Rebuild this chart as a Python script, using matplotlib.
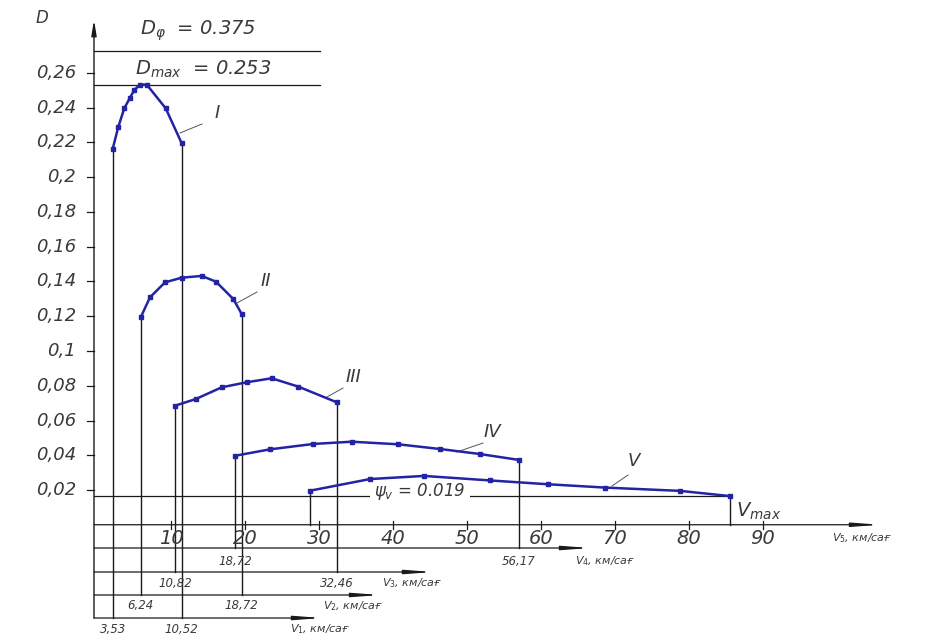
import numpy as np
import matplotlib.pyplot as plt

# dynamic characteristic: speed on the common V5 scale (km/h) and D
v_1 = [2.12, 2.88, 3.69, 4.46, 5.04, 5.81, 6.72, 9.28, 11.45]
d_1 = [0.2163, 0.229, 0.2397, 0.2458, 0.2502, 0.2533, 0.2533, 0.2397, 0.2195]
v_2 = [5.91, 7.16, 9.19, 11.45, 14.15, 16.08, 18.42, 19.55]
d_2 = [0.1194, 0.1309, 0.1395, 0.1422, 0.1432, 0.1399, 0.1299, 0.1213]
v_3 = [10.54, 13.38, 16.85, 20.23, 23.61, 27.20, 32.39]
d_3 = [0.0685, 0.0724, 0.0791, 0.0820, 0.0843, 0.0795, 0.0705]
v_4 = [18.65, 23.38, 29.23, 34.42, 40.72, 46.35, 51.76, 57.03]
d_4 = [0.0397, 0.0434, 0.0465, 0.0478, 0.0463, 0.0436, 0.0407, 0.0373]
v_5 = [28.78, 36.89, 44.19, 53.11, 60.95, 68.65, 78.78, 85.54]
d_5 = [0.0196, 0.0263, 0.0281, 0.0255, 0.0233, 0.0214, 0.0195, 0.0165]

gears = ['I', 'II', 'III', 'IV', 'V']
end_labels = [('3,53', '10,52'), ('6,24', '18,72'), ('10,82', '32,46'),
              ('18,72', '56,17'), (None, None)]

d_ticks = [0.02, 0.04, 0.06, 0.08, 0.1, 0.12, 0.14, 0.16, 0.18, 0.2, 0.22, 0.24, 0.26]
d_tick_labels = ['0,02', '0,04', '0,06', '0,08', '0,1', '0,12', '0,14', '0,16',
                 '0,18', '0,2', '0,22', '0,24', '0,26']
v5_ticks = [10, 20, 30, 40, 50, 60, 70, 80, 90]

D_phi = 0.375
D_max = 0.253
psi_v = 0.019


# pixel -> data helpers for the drawing layout
def px(x):
    return (x - 97) / 7.4


def py(y):
    return (524.75 - y) / 1737.5


fig = plt.figure(figsize=(9.43, 6.37), dpi=100)
ax = fig.add_axes([0, 0, 1, 1])
ax.set_xlim(px(0), px(943))
ax.set_ylim(py(637), py(0))
ax.axis('off')

blue = '#2323a6'
ink = '#1a1a1a'
txt = dict(color='#3a3a3a', fontstyle='italic', family='DejaVu Sans')
x_axis = px(94)

# speed axes for each gear (bottom), top one is V5
axis_y = [py(618), py(595), py(572), py(548), 0.0]
axis_end = [px(322), px(380), px(433), px(590), px(880)]
axis_text_x = [px(290), px(323), px(382), px(575), px(832)]
label_y = [py(629), py(606), py(583), py(561), py(538)]

curves = [(v_1, d_1), (v_2, d_2), (v_3, d_3), (v_4, d_4), (v_5, d_5)]
for i, (v, d) in enumerate(curves):
    ax.plot(v, d, color=blue, lw=1.8, marker='s', ms=2.5, zorder=5)
    for j in (0, -1):
        ax.plot([v[j], v[j]], [d[j], axis_y[i]], color=ink, lw=1.0)
    ax.annotate('', xy=(axis_end[i], axis_y[i]), xytext=(x_axis, axis_y[i]),
                arrowprops=dict(arrowstyle='-|>,head_length=1.6,head_width=0.12',
                                color=ink, lw=0.9, shrinkA=0, shrinkB=0))
    ax.text(axis_text_x[i], label_y[i], '$V_%d$, км/сағ' % (i + 1), fontsize=8,
            va='center', ha='left', **txt)
    lo, hi = end_labels[i]
    if lo:
        ax.text(v[0], label_y[i], lo, fontsize=8.5, ha='center', va='center', **txt)
        ax.text(v[-1], label_y[i], hi, fontsize=8.5, ha='center', va='center', **txt)

# V5 ticks
for t in v5_ticks:
    ax.plot([t, t], [py(529), py(521)], color=ink, lw=0.9)
    ax.text(t, py(538), str(t), fontsize=14, ha='center', va='center', **txt)

# D axis
ax.annotate('', xy=(x_axis, py(20)), xytext=(x_axis, axis_y[0]),
            arrowprops=dict(arrowstyle='-|>,head_length=0.9,head_width=0.15',
                            color=ink, lw=1.0, shrinkA=0, shrinkB=0))
for t, lab in zip(d_ticks, d_tick_labels):
    ax.plot([px(87), x_axis], [t, t], color=ink, lw=0.9)
    ax.text(px(76), t, lab, fontsize=13, ha='right', va='center', **txt)
ax.text(px(42), py(18), 'D', fontsize=12, ha='center', va='center', **txt)

# reference levels
ax.plot([x_axis, px(320)], [py(50.7), py(50.7)], color=ink, lw=0.9)
ax.text(px(140), py(31), r'$D_{\varphi}$  = %.3f' % D_phi, fontsize=14,
        ha='left', va='center', **txt)
ax.plot([x_axis, px(320)], [D_max, D_max], color=ink, lw=0.9)
ax.text(px(135), py(69), r'$D_{max}$  = %.3f' % D_max, fontsize=14,
        ha='left', va='center', **txt)
ax.plot([x_axis, v_5[-1]], [d_5[-1], d_5[-1]], color=ink, lw=0.9)
ax.text(px(420), py(491), r'$\psi_v$ = %.3f' % psi_v, fontsize=12, ha='center',
        va='center', bbox=dict(fc='white', ec='none', pad=3), zorder=4, **txt)
ax.text(px(736), py(511), '$V_{max}$', fontsize=14, ha='left', va='center', **txt)

# gear numbers with leaders
leaders = [((180, 133), (202, 124), (217, 113)),
           ((237, 303), (257, 292), (266, 281)),
           ((327, 397), (343, 388), (353, 377)),
           ((457, 452), (483, 443), (492, 432)),
           ((612, 486), (628, 475), (634, 461))]
for name, (a, b, c) in zip(gears, leaders):
    ax.plot([px(a[0]), px(b[0])], [py(a[1]), py(b[1])], color='#555555', lw=0.7)
    ax.text(px(c[0]), py(c[1]), name, fontsize=13, ha='center', va='center', **txt)

fig.savefig('out.png', dpi=100)
